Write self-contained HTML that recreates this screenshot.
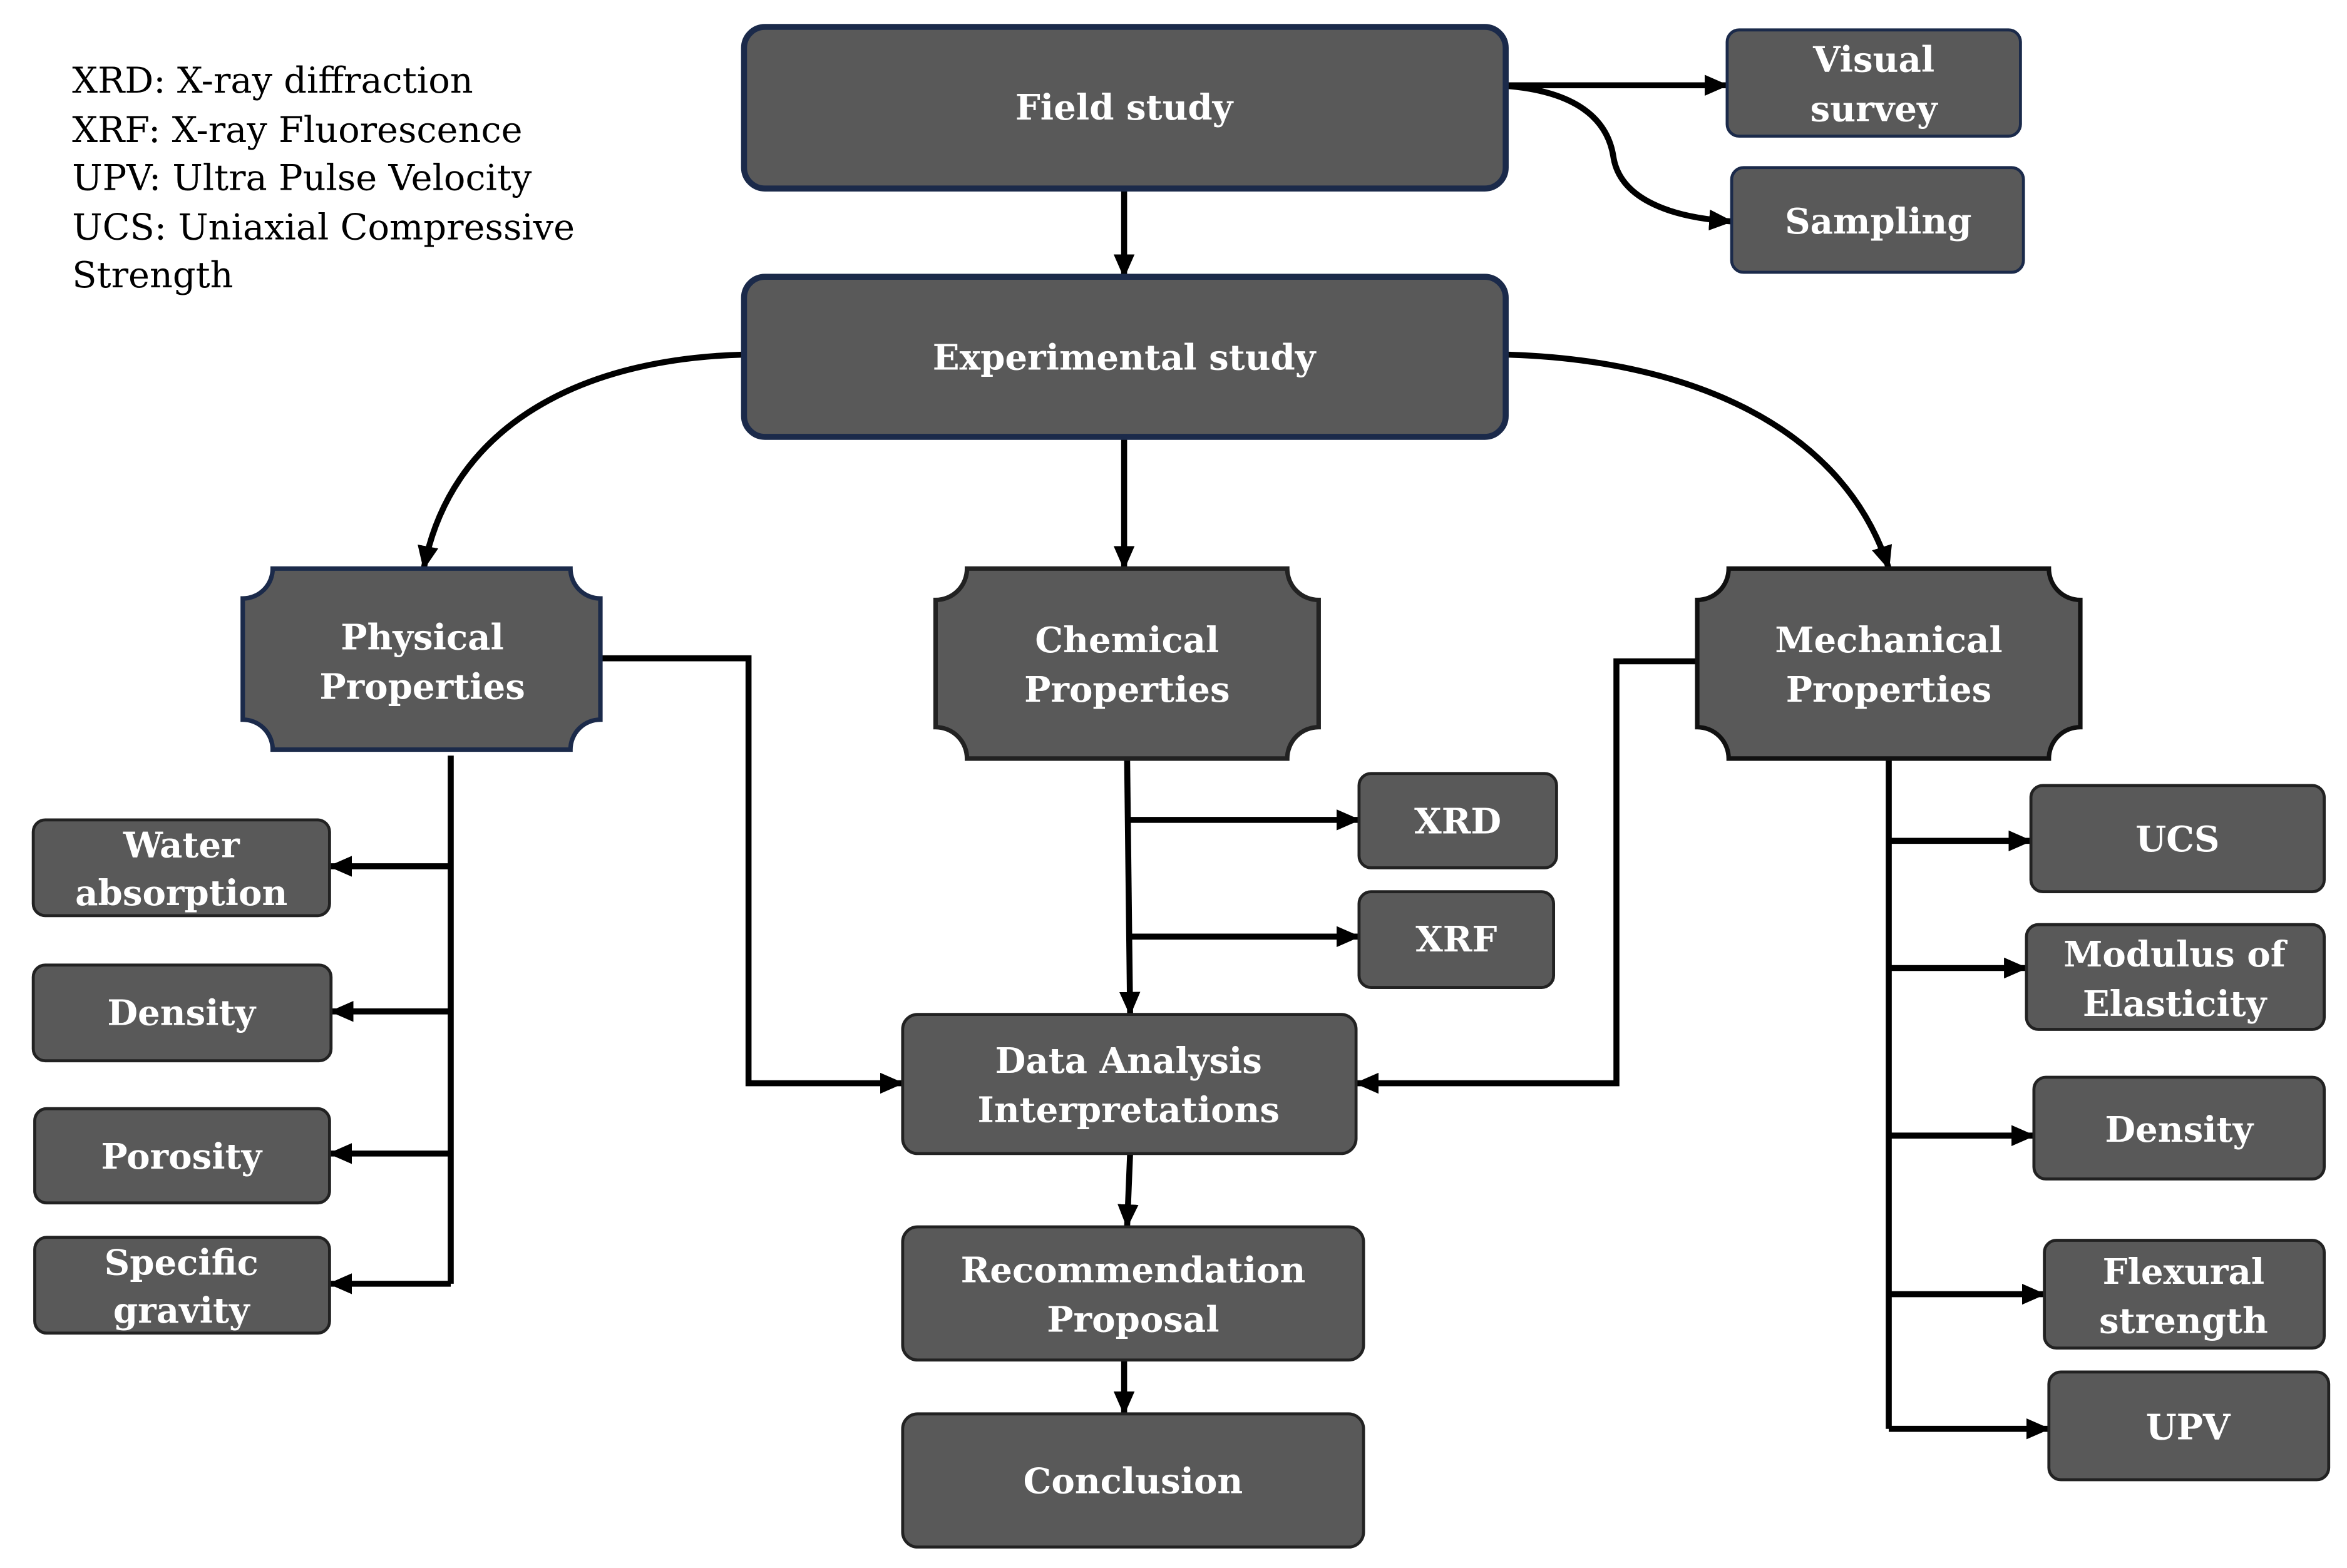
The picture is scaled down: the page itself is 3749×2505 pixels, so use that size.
<!DOCTYPE html>
<html><head><meta charset="utf-8"><style>
html,body{margin:0;padding:0;background:#fff;}
svg{display:block;}
</style></head><body>
<svg width="3749" height="2505" viewBox="0 0 1568 1048" xmlns="http://www.w3.org/2000/svg">
<defs>
<marker id="a" markerWidth="16" markerHeight="14" refX="15" refY="7" orient="auto" markerUnits="userSpaceOnUse">
<path d="M0,0 L16,7 L0,14 z" fill="#000"/>
</marker>
</defs>
<rect width="1568" height="1048" fill="#fff"/>
<g font-family="'DejaVu Serif', serif" font-size="24" fill="#000">
<text x="48" y="62">XRD: X-ray diffraction</text>
<text x="48" y="95">XRF: X-ray Fluorescence</text>
<text x="48" y="127">UPV: Ultra Pulse Velocity</text>
<text x="48" y="160">UCS: Uniaxial Compressive</text>
<text x="48" y="192">Strength</text>
</g>
<g fill="none" stroke="#000" stroke-width="4">
<path d="M751,126 V185" marker-end="url(#a)"/>
<path d="M1000,57 H1154" marker-end="url(#a)"/>
<path d="M1000,57 C1060,60 1075,85 1078,105 C1082,130 1110,145 1157,148" marker-end="url(#a)"/>
<path d="M497,237 C380,240 300,290 283,380" marker-end="url(#a)"/>
<path d="M1006,237 C1120,240 1230,280 1262,380" marker-end="url(#a)"/>
<path d="M751,292 V380" marker-end="url(#a)"/>
<path d="M401,440 H500 V724 H603" marker-end="url(#a)"/>
<path d="M301,505 V858"/>
<path d="M301,579 H220" marker-end="url(#a)"/>
<path d="M301,676 H221" marker-end="url(#a)"/>
<path d="M301,771 H220" marker-end="url(#a)"/>
<path d="M301,858 H220" marker-end="url(#a)"/>
<path d="M753,507 L755,678" marker-end="url(#a)"/>
<path d="M754,548 H908" marker-end="url(#a)"/>
<path d="M754,626 H908" marker-end="url(#a)"/>
<path d="M1134,442 H1080 V724 H906" marker-end="url(#a)"/>
<path d="M1262,507 V955"/>
<path d="M1262,562 H1357" marker-end="url(#a)"/>
<path d="M1262,647 H1354" marker-end="url(#a)"/>
<path d="M1262,759 H1359" marker-end="url(#a)"/>
<path d="M1262,865 H1366" marker-end="url(#a)"/>
<path d="M1262,955 H1369" marker-end="url(#a)"/>
<path d="M755,771 L753,820" marker-end="url(#a)"/>
<path d="M751,909 V945" marker-end="url(#a)"/>
</g>
<g fill="#595959">
<rect x="497" y="18" width="509" height="108" rx="14" stroke="#1b2a4a" stroke-width="4"/>
<rect x="497" y="185" width="509" height="107" rx="14" stroke="#1b2a4a" stroke-width="4"/>
<g stroke="#1b2a4a" stroke-width="2">
<rect x="1154" y="20" width="196" height="71" rx="8"/>
<rect x="1157" y="112" width="195" height="70" rx="8"/>
</g>
<path d="M182,380 H381 A20,20 0 0 0 401,400 V481 A20,20 0 0 0 381,501 H182 A20,20 0 0 0 162,481 V400 A20,20 0 0 0 182,380 z" stroke="#1b2a4a" stroke-width="3"/>
<path d="M646,380 H860 A21,21 0 0 0 881,401 V486 A21,21 0 0 0 860,507 H646 A21,21 0 0 0 625,486 V401 A21,21 0 0 0 646,380 z" stroke="#222" stroke-width="3"/>
<path d="M1155,380 H1369 A21,21 0 0 0 1390,401 V486 A21,21 0 0 0 1369,507 H1155 A21,21 0 0 0 1134,486 V401 A21,21 0 0 0 1155,380 z" stroke="#111" stroke-width="3"/>
<g stroke="#222" stroke-width="2">
<rect x="22" y="548" width="198" height="64" rx="8"/>
<rect x="22" y="645" width="199" height="64" rx="8"/>
<rect x="23" y="741" width="197" height="63" rx="8"/>
<rect x="23" y="827" width="197" height="64" rx="8"/>
<rect x="908" y="517" width="132" height="63" rx="8"/>
<rect x="908" y="596" width="130" height="64" rx="8"/>
<rect x="603" y="678" width="303" height="93" rx="10"/>
<rect x="603" y="820" width="308" height="89" rx="10"/>
<rect x="603" y="945" width="308" height="89" rx="10"/>
<rect x="1357" y="525" width="196" height="71" rx="8"/>
<rect x="1354" y="618" width="199" height="70" rx="8"/>
<rect x="1359" y="720" width="194" height="68" rx="8"/>
<rect x="1366" y="829" width="187" height="72" rx="8"/>
<rect x="1369" y="917" width="187" height="72" rx="8"/>
</g>
</g>
<g font-family="'DejaVu Serif', serif" font-weight="bold" font-size="23.5" fill="#fff" text-anchor="middle">
<text x="751" y="80">Field study</text>
<text x="1252" y="48">Visual</text>
<text x="1252" y="81">survey</text>
<text x="1255" y="156">Sampling</text>
<text x="751" y="247">Experimental study</text>
<text x="282" y="434">Physical</text>
<text x="282" y="467">Properties</text>
<text x="753" y="436">Chemical</text>
<text x="753" y="469">Properties</text>
<text x="1262" y="436">Mechanical</text>
<text x="1262" y="469">Properties</text>
<text x="121" y="573">Water</text>
<text x="121" y="605">absorption</text>
<text x="121" y="685">Density</text>
<text x="121" y="781">Porosity</text>
<text x="121" y="852">Specific</text>
<text x="121" y="884">gravity</text>
<text x="974" y="557">XRD</text>
<text x="973" y="636">XRF</text>
<text x="754" y="717">Data Analysis</text>
<text x="754" y="750">Interpretations</text>
<text x="757" y="857">Recommendation</text>
<text x="757" y="890">Proposal</text>
<text x="757" y="998">Conclusion</text>
<text x="1455" y="569">UCS</text>
<text x="1453" y="646">Modulus of</text>
<text x="1453" y="679">Elasticity</text>
<text x="1456" y="763">Density</text>
<text x="1459" y="858">Flexural</text>
<text x="1459" y="891">strength</text>
<text x="1462" y="962">UPV</text>
</g>
</svg>
</body></html>
